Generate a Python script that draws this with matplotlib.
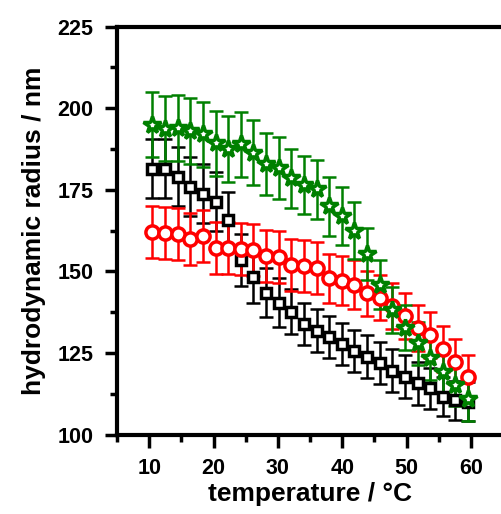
import numpy as np
import matplotlib.pyplot as plt
from matplotlib.ticker import MultipleLocator

plt.rcParams['font.family'] = ['Liberation Sans', 'DejaVu Sans']
plt.rcParams['font.weight'] = 'bold'

# temperatures (same for all three series)
temp = [10.5, 12.5, 14.4, 16.4, 18.3, 20.3, 22.3, 24.2, 26.2, 28.2, 30.1, 32.1, 34.1,
        36.0, 38.0, 39.9, 41.9, 43.9, 45.8, 47.8, 49.8, 51.7, 53.7, 55.6, 57.6, 59.6]

# black squares
r_black = [181.5, 181.5, 179.0, 176.0, 173.8, 171.4, 165.8, 153.6, 148.4, 143.5, 140.4, 137.7, 133.9,
           131.9, 130.0, 127.8, 125.7, 123.9, 121.9, 119.6, 117.8, 115.7, 114.2, 111.6, 110.6, 110.1]
e_black = [9, 9, 9, 9, 9, 9, 8.5, 8, 8, 7.5, 7.5, 7, 6.5,
           6.5, 6.5, 6.5, 6.5, 6.5, 6.5, 6.5, 6.5, 6.5, 6.2, 6, 6, 6]

# red circles
r_red = [162.2, 161.9, 161.5, 159.9, 160.9, 157.1, 157.1, 156.8, 156.6, 154.8, 154.4, 152.0, 151.6,
         151.0, 147.9, 147.1, 145.9, 143.3, 142.0, 139.5, 136.4, 132.6, 130.5, 126.2, 122.4, 117.8]
e_red = [8, 8, 8, 8, 8, 8, 8, 8, 8, 8, 8, 8, 8,
         8, 7.5, 7.5, 7.5, 7, 7, 7, 7, 7, 7, 7, 6.8, 6.5]

# green stars
r_green = [195.0, 193.7, 194.0, 193.0, 192.0, 189.3, 187.5, 189.0, 186.4, 183.0, 181.6, 178.6, 176.5,
           175.2, 170.0, 167.0, 162.5, 155.4, 146.0, 138.2, 132.8, 128.0, 123.4, 119.3, 115.2, 111.0]
e_green = [10, 10, 10, 10, 10, 10, 10, 10, 10, 9.5, 9.5, 9, 9,
           9, 9, 9, 8.8, 8, 7.5, 7, 6.8, 6.5, 6.5, 6.5, 6.5, 6.8]

fig = plt.figure(figsize=(5.01, 5.14), dpi=100)
ax = fig.add_axes([0.2337, 0.1543, 0.7705, 0.7938])

series = [(r_black, e_black, 'black', 's', 7.5),
          (r_red, e_red, '#ff0000', 'o', 9.5),
          (r_green, e_green, '#008000', '*', 13)]

# error bars first, markers on top
for r, e, c, m, ms in series:
    ax.errorbar(temp, r, yerr=e, fmt='none', ecolor=c, elinewidth=1.8,
                capsize=5, capthick=1.8, zorder=2)
for r, e, c, m, ms in series:
    ax.plot(temp, r, linestyle='none', marker=m, ms=ms, mfc='white', mec=c,
            mew=2.5, zorder=3)

ax.set_xlim(5, 65)
ax.set_ylim(100, 225)
ax.xaxis.set_major_locator(MultipleLocator(10))
ax.xaxis.set_minor_locator(MultipleLocator(5))
ax.yaxis.set_major_locator(MultipleLocator(25))
ax.yaxis.set_minor_locator(MultipleLocator(12.5))

for s in ['left', 'bottom', 'top']:
    ax.spines[s].set_linewidth(3)
ax.spines['right'].set_visible(False)

ax.tick_params(which='major', direction='out', length=9, width=2.5, labelsize=15.5)
ax.tick_params(axis='x', which='major', pad=8)
ax.tick_params(axis='y', which='major', pad=8)
ax.tick_params(which='minor', direction='out', length=5, width=2.5)
ax.tick_params(top=False, right=False, which='both')

for lab in ax.get_xticklabels() + ax.get_yticklabels():
    lab.set_fontweight('bold')

ax.set_xlabel('temperature / °C', fontsize=19, fontweight='bold', labelpad=2)
ax.set_ylabel('hydrodynamic radius / nm', fontsize=19, fontweight='bold', labelpad=8)

fig.savefig('out.png', dpi=100)
